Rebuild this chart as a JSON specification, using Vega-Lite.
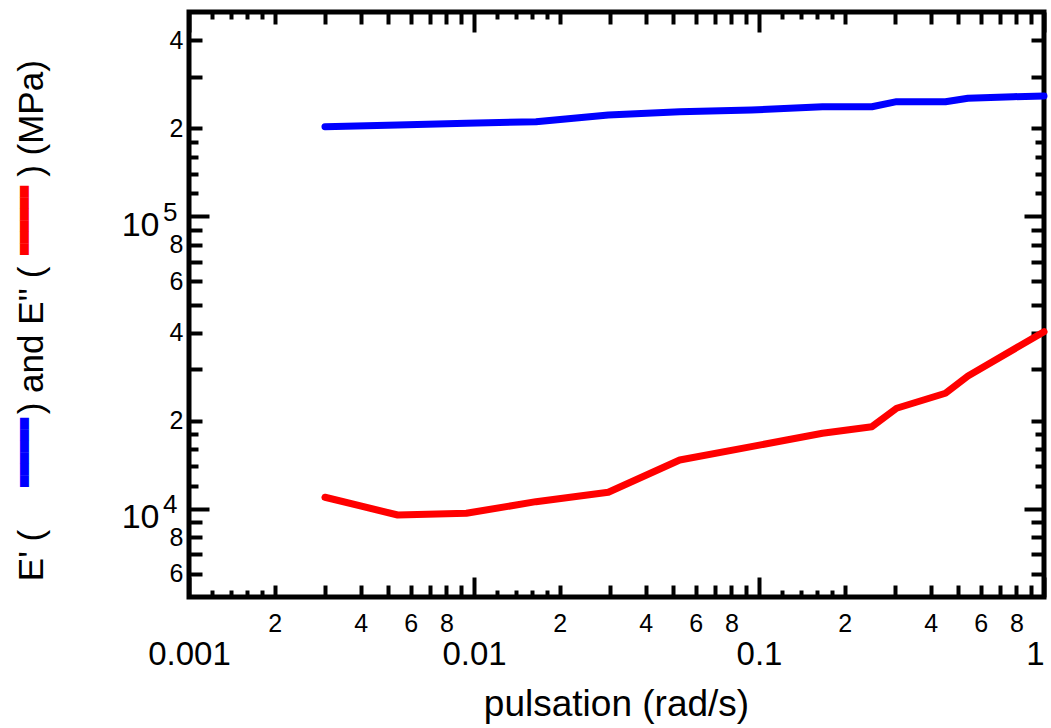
{
  "$schema": "https://vega.github.io/schema/vega-lite/v6.json",
  "width": 855,
  "height": 585,
  "autosize": {"type": "none"},
  "padding": {"left": 189, "top": 12, "right": 7, "bottom": 131},
  "background": "white",
  "config": {
    "view": {"stroke": "black", "strokeWidth": 5},
    "axis": {
      "grid": false,
      "domain": false,
      "tickColor": "black",
      "tickWidth": 4,
      "labelColor": "black",
      "titleColor": "black",
      "labelFont": "Liberation Sans",
      "titleFont": "Liberation Sans",
      "titleFontWeight": "normal",
      "labelFlush": false,
      "labelOverlap": false,
      "labelBound": false
    }
  },
  "datasets": {
    "storage": [
      {"w": 0.003, "E": 202700},
      {"w": 0.0054, "E": 205500},
      {"w": 0.0094, "E": 208200},
      {"w": 0.0165, "E": 210900},
      {"w": 0.0296, "E": 222300},
      {"w": 0.0527, "E": 228100},
      {"w": 0.094, "E": 231200},
      {"w": 0.167, "E": 237200},
      {"w": 0.249, "E": 237200},
      {"w": 0.304, "E": 246800},
      {"w": 0.451, "E": 246800},
      {"w": 0.541, "E": 253500},
      {"w": 0.78, "E": 256700},
      {"w": 1.0, "E": 258100}
    ],
    "loss": [
      {"w": 0.003, "E": 10965},
      {"w": 0.0054, "E": 9535},
      {"w": 0.0094, "E": 9663},
      {"w": 0.0165, "E": 10590},
      {"w": 0.0296, "E": 11400},
      {"w": 0.0527, "E": 14700},
      {"w": 0.094, "E": 16330},
      {"w": 0.167, "E": 18140},
      {"w": 0.249, "E": 19110},
      {"w": 0.304, "E": 22090},
      {"w": 0.451, "E": 24860},
      {"w": 0.541, "E": 28490},
      {"w": 1.0, "E": 40360}
    ]
  },
  "resolve": {
    "scale": {"x": "shared", "y": "shared"},
    "axis": {"x": "independent", "y": "independent"}
  },
  "layer": [
    {
      "data": {"name": "storage"},
      "mark": {"type": "line", "color": "#0000ff", "strokeWidth": 7, "strokeCap": "round", "strokeJoin": "round"},
      "encoding": {
        "x": {
          "field": "w", "type": "quantitative",
          "scale": {"type": "log", "domain": [0.001, 1], "nice": false},
          "axis": {
            "orient": "bottom", "values": [0.001, 0.01, 0.1, 1], "tickSize": -20,
            "labelFontSize": 33, "labelPadding": 61,
            "labelAlign": {"condition": {"test": "datum.value > 0.5", "value": "right"}, "value": "center"},
            "labelExpr": "datum.value > 0.5 ? '1' : datum.value > 0.05 ? '0.1' : datum.value > 0.005 ? '0.01' : '0.001'",
            "title": "pulsation (rad/s)", "titleFontSize": 37, "titleX": 427, "titleY": 118,
            "titleBaseline": "alphabetic", "titleAlign": "center"
          }
        },
        "y": {
          "field": "E", "type": "quantitative",
          "scale": {"type": "log", "domain": [5000, 500000], "nice": false},
          "axis": {
            "orient": "left", "values": [10000, 100000], "tickSize": -20,
            "labelFontSize": 34, "labelPadding": 50, "labelExpr": "'10'",
            "labelAlign": "right", "labelBaseline": "middle", "labelOffset": 9,
            "title": "E' (", "titleFontSize": 35, "titleX": -147, "titleY": 543,
            "titleAngle": 270, "titleBaseline": "alphabetic", "titleAlign": "center"
          }
        }
      }
    },
    {
      "data": {"name": "loss"},
      "mark": {"type": "line", "color": "#ff0000", "strokeWidth": 7, "strokeCap": "round", "strokeJoin": "round"},
      "encoding": {
        "x": {
          "field": "w", "type": "quantitative",
          "scale": {"type": "log", "domain": [0.001, 1], "nice": false},
          "axis": {
            "orient": "bottom",
            "values": [0.002, 0.003, 0.004, 0.005, 0.006, 0.007, 0.008, 0.009, 0.02, 0.03, 0.04, 0.05, 0.06, 0.07, 0.08, 0.09, 0.2, 0.3, 0.4, 0.5, 0.6, 0.7, 0.8, 0.9],
            "tickSize": -12, "labelFontSize": 25, "labelPadding": 26,
            "labelExpr": "(round(datum.value / pow(10, floor(log(datum.value) / LN10 + 1e-9))) % 2 == 0) ? '' + round(datum.value / pow(10, floor(log(datum.value) / LN10 + 1e-9))) : ''",
            "title": null
          }
        },
        "y": {
          "field": "E", "type": "quantitative",
          "scale": {"type": "log", "domain": [5000, 500000], "nice": false},
          "axis": {
            "orient": "left",
            "values": [6000, 7000, 8000, 9000, 20000, 30000, 40000, 50000, 60000, 70000, 80000, 90000, 200000, 300000, 400000],
            "tickSize": -13, "labelFontSize": 25, "labelPadding": 19,
            "labelAlign": "right", "labelBaseline": "middle",
            "labelExpr": "(round(datum.value / pow(10, floor(log(datum.value) / LN10 + 1e-9))) % 2 == 0) ? '' + round(datum.value / pow(10, floor(log(datum.value) / LN10 + 1e-9))) : ''",
            "title": ") and E'' (", "titleFontSize": 35, "titleX": -147, "titleY": 328,
            "titleAngle": 270, "titleBaseline": "alphabetic", "titleAlign": "center"
          }
        }
      }
    },
    {
      "data": {"name": "storage"},
      "mark": {"type": "line", "strokeOpacity": 0},
      "encoding": {
        "x": {
          "field": "w", "type": "quantitative",
          "scale": {"type": "log", "domain": [0.001, 1], "nice": false},
          "axis": {
            "orient": "bottom",
            "values": [0.0012, 0.0014, 0.0016, 0.0018, 0.012, 0.014, 0.016, 0.018, 0.12, 0.14, 0.16, 0.18],
            "tickSize": -7, "labels": false, "title": null
          }
        },
        "y": {
          "field": "E", "type": "quantitative",
          "scale": {"type": "log", "domain": [5000, 500000], "nice": false},
          "axis": {
            "orient": "left",
            "values": [12000, 14000, 16000, 18000, 120000, 140000, 160000, 180000],
            "tickSize": -9, "labels": false,
            "title": ") (MPa)", "titleFontSize": 35, "titleX": -147, "titleY": 106,
            "titleAngle": 270, "titleBaseline": "alphabetic", "titleAlign": "center"
          }
        }
      }
    },
    {
      "data": {"name": "storage"},
      "mark": {"type": "line", "strokeOpacity": 0},
      "encoding": {
        "x": {
          "field": "w", "type": "quantitative",
          "scale": {"type": "log", "domain": [0.001, 1], "nice": false},
          "axis": {"orient": "top", "values": [0.001, 0.01, 0.1, 1], "tickSize": -20, "labels": false, "title": null}
        },
        "y": {
          "field": "E", "type": "quantitative",
          "scale": {"type": "log", "domain": [5000, 500000], "nice": false},
          "axis": {"orient": "right", "values": [10000, 100000], "tickSize": -20, "labels": false, "title": null}
        }
      }
    },
    {
      "data": {"name": "storage"},
      "mark": {"type": "line", "strokeOpacity": 0},
      "encoding": {
        "x": {
          "field": "w", "type": "quantitative",
          "scale": {"type": "log", "domain": [0.001, 1], "nice": false},
          "axis": {
            "orient": "top",
            "values": [0.002, 0.003, 0.004, 0.005, 0.006, 0.007, 0.008, 0.009, 0.02, 0.03, 0.04, 0.05, 0.06, 0.07, 0.08, 0.09, 0.2, 0.3, 0.4, 0.5, 0.6, 0.7, 0.8, 0.9],
            "tickSize": -12, "labels": false, "title": null
          }
        },
        "y": {
          "field": "E", "type": "quantitative",
          "scale": {"type": "log", "domain": [5000, 500000], "nice": false},
          "axis": {
            "orient": "right",
            "values": [6000, 7000, 8000, 9000, 20000, 30000, 40000, 50000, 60000, 70000, 80000, 90000, 200000, 300000, 400000],
            "tickSize": -13, "labels": false, "title": null
          }
        }
      }
    },
    {
      "data": {"name": "storage"},
      "mark": {"type": "line", "strokeOpacity": 0},
      "encoding": {
        "x": {
          "field": "w", "type": "quantitative",
          "scale": {"type": "log", "domain": [0.001, 1], "nice": false},
          "axis": {
            "orient": "top",
            "values": [0.0012, 0.0014, 0.0016, 0.0018, 0.012, 0.014, 0.016, 0.018, 0.12, 0.14, 0.16, 0.18],
            "tickSize": -7, "labels": false, "title": null
          }
        },
        "y": {
          "field": "E", "type": "quantitative",
          "scale": {"type": "log", "domain": [5000, 500000], "nice": false},
          "axis": {
            "orient": "right",
            "values": [12000, 14000, 16000, 18000, 120000, 140000, 160000, 180000],
            "tickSize": -9, "labels": false, "title": null
          }
        }
      }
    },
    {
      "data": {"name": "storage"},
      "mark": {"type": "line", "strokeOpacity": 0},
      "encoding": {
        "x": {
          "field": "w", "type": "quantitative",
          "scale": {"type": "log", "domain": [0.001, 1], "nice": false},
          "axis": null
        },
        "y": {
          "field": "E", "type": "quantitative",
          "scale": {"type": "log", "domain": [5000, 500000], "nice": false},
          "axis": {
            "orient": "left", "values": [10000, 100000], "ticks": false,
            "labelFontSize": 26, "labelPadding": 12, "labelAlign": "right", "labelBaseline": "middle",
            "labelOffset": -4, "labelExpr": "datum.value < 50000 ? '4' : '5'",
            "title": "▀▀▀▀▀▀", "titleFont": "DejaVu Sans", "titleColor": "#0000ff", "titleFontSize": 15,
            "titleX": -156, "titleY": 440, "titleAngle": 270, "titleBaseline": "alphabetic", "titleAlign": "center"
          }
        }
      }
    },
    {
      "data": {"name": "storage"},
      "mark": {"type": "line", "strokeOpacity": 0},
      "encoding": {
        "x": {
          "field": "w", "type": "quantitative",
          "scale": {"type": "log", "domain": [0.001, 1], "nice": false},
          "axis": null
        },
        "y": {
          "field": "E", "type": "quantitative",
          "scale": {"type": "log", "domain": [5000, 500000], "nice": false},
          "axis": {
            "orient": "left", "values": [10000, 100000], "ticks": false, "labels": false,
            "title": "▀▀▀▀▀▀", "titleFont": "DejaVu Sans", "titleColor": "#ff0000", "titleFontSize": 15,
            "titleX": -156, "titleY": 208, "titleAngle": 270, "titleBaseline": "alphabetic", "titleAlign": "center"
          }
        }
      }
    }
  ]
}
